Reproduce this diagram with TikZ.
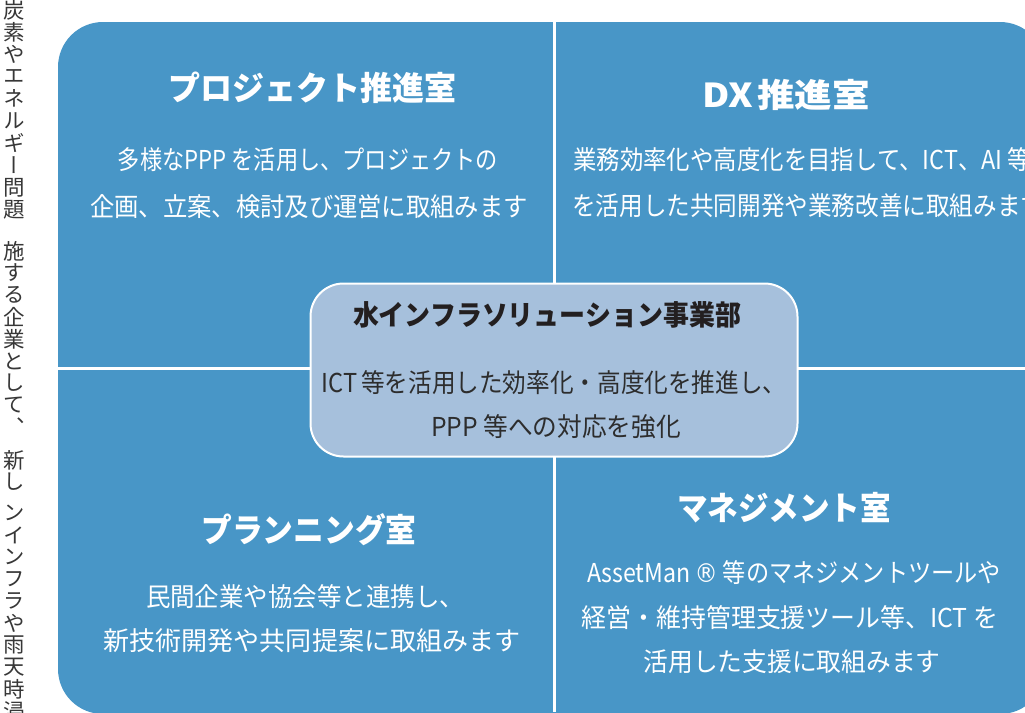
\documentclass[tikz,border=0pt]{standalone}
\usepackage{fontspec}
\setmainfont{Noto Sans CJK JP}
\newfontfamily\vjp[RawFeature=+vert]{Noto Sans CJK JP}
\newfontfamily\regfont{DejaVu Sans}
\newcommand\fitw[2]{\resizebox{#1pt}{\height}{#2}}
\definecolor{qblue}{RGB}{72,150,199}
\definecolor{cboxfill}{RGB}{166,192,220}
\definecolor{ctitle}{RGB}{35,31,32}
\definecolor{ctext}{RGB}{45,45,45}
\definecolor{vtext}{RGB}{55,55,55}
\begin{document}
\begin{tikzpicture}[x=1pt,y=-1pt,
  ttl/.style={text=white,font=\bfseries\fontsize{33}{36}\selectfont,inner sep=0pt},
  body/.style={text=white,font=\fontsize{26}{28}\selectfont,inner sep=0pt},
  hqttl/.style={text=ctitle,font=\bfseries\fontsize{28}{32}\selectfont,inner sep=0pt},
  hqbody/.style={text=ctext,font=\fontsize{26}{28}\selectfont,inner sep=0pt},
  vchar/.style={text=vtext,font=\vjp\fontsize{21.5}{22}\selectfont,inner sep=0pt},
  divider/.style={white,line width=3pt},
  hqbox/.style={draw=white,line width=2pt,fill=cboxfill,rounded corners=33pt,
    minimum width=487pt,minimum height=173pt,inner sep=0pt}]
\useasboundingbox (0,0) rectangle (1025,712);
\begin{scope}
\clip (0,0) rectangle (1025,712);
\fill[qblue,rounded corners=45pt] (58,22) rectangle (1045,714);
\coordinate (vtop) at (554,22);
\coordinate (vbot) at (554,712);
\coordinate (hl) at (58,368);
\coordinate (hr) at (1025,368);
\draw[divider] (vtop) -- (vbot);
\draw[divider] (hl) -- (hr);
% vertical text column
\foreach \c/\yy [count=\i] in {炭/10,素/32.2,や/54.4,エ/76.6,ネ/98.8,ル/121,ギ/143.2,ー/165.4,問/187.6,題/209.8,
  施/251,す/273,る/295,企/317,業/339,と/361,し/383,て/405,、/427,
  新/460,し/482,
  ン/513,イ/535,ン/557,フ/579,ラ/601,や/623,雨/645,天/667,時/689,浸/711}
  \node[vchar] (v\i) at (14,\yy) {\c};
% quadrants
\node[ttl] (tlt) at (312,88) {\fitw{288}{プロジェクト推進室}};
\node[body] (tl1) at (308,160) {\fitw{380}{多様なPPP を活用し、プロジェクトの}};
\node[body] (tl2) at (309,207) {\fitw{438}{企画、立案、検討及び運営に取組みます}};
\node[ttl] (trt) at (786,95) {\fitw{168}{DX\hspace{4pt}推進室}};
\node[body,anchor=west] (tr1) at (573,160) {\fitw{458}{業務効率化や高度化を目指して、ICT、AI 等}};
\node[body,anchor=west] (tr2) at (572,206) {\fitw{472}{を活用した共同開発や業務改善に取組みます}};
\node[ttl] (blt) at (309,530) {\fitw{215}{プランニング室}};
\node[body] (bl1) at (305,597) {\fitw{318}{民間企業や協会等と連携し、}};
\node[body] (bl2) at (312,641) {\fitw{417}{新技術開発や共同提案に取組みます}};
\node[ttl] (brt) at (784,508) {\fitw{214}{マネジメント室}};
\node[body] (br1) at (794,573) {\fitw{414}{AssetMan\,{\regfont ®} 等のマネジメントツールや}};
\node[body] (br2) at (790,618) {\fitw{416}{経営・維持管理支援ツール等、ICT を}};
\node[body] (br3) at (792,662) {\fitw{297}{活用した支援に取組みます}};
% centre box
\node[hqbox] (hq) at (554,370) {};
\node[hqttl] (hqt) at (547,315) {\fitw{388}{水インフラソリューション事業部}};
\node[hqbody] (hq1) at (554,383) {\fitw{465}{ICT\,等を活用した効率化・高度化を推進し、}};
\node[hqbody] (hq2) at (556,427) {\fitw{250}{PPP 等への対応を強化}};
\end{scope}
\end{tikzpicture}
\end{document}
